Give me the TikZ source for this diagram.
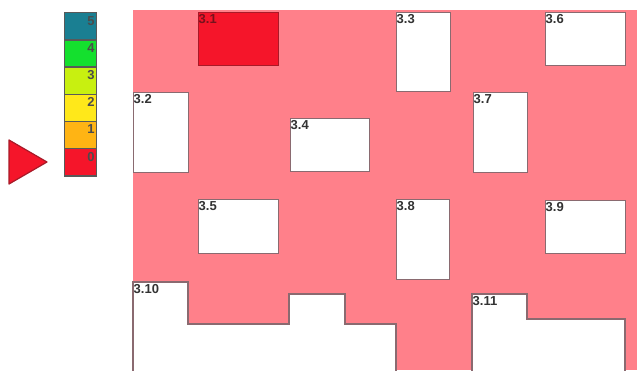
\documentclass[tikz,border=0pt]{standalone}
\usepackage{fontspec}
\setmainfont{Liberation Sans}
\usepackage{xcolor}
\usetikzlibrary{positioning}
\definecolor{floorpink}{HTML}{FF808A}
\definecolor{edgegray}{HTML}{8A6A70}
\definecolor{alarmred}{HTML}{F5152A}
\definecolor{darkred}{HTML}{A81A28}
\definecolor{levelfive}{HTML}{1A7F92}
\definecolor{levelfour}{HTML}{14E02E}
\definecolor{levelthree}{HTML}{C8F010}
\definecolor{leveltwo}{HTML}{FFE81A}
\definecolor{levelone}{HTML}{FFB414}
\tikzset{
  room/.style={draw=edgegray,fill=white,line width=1.1pt,inner sep=0pt,anchor=north west},
  roomlabel/.style={font=\fontsize{13}{13}\selectfont\bfseries,text=black!80,inner sep=0pt,anchor=north west,xshift=0.5pt,yshift=-2pt},
  cell/.style={draw=black!65,line width=1.4pt,inner sep=0pt,minimum width=32pt,minimum height=27.2pt,anchor=north west},
  celllabel/.style={font=\fontsize{13}{13}\selectfont\bfseries,text=black!70,inner sep=0pt,anchor=north east,xshift=-2pt,yshift=-4pt}
}
\begin{document}
\begin{tikzpicture}[x=1pt,y=-1pt]
  \useasboundingbox (0,0) rectangle (637,370);
  % floor
  \fill[floorpink] (133,10) rectangle (637,370);
  % legend
  \foreach \n/\c/\yy in {5/levelfive/12,4/levelfour/39.2,3/levelthree/66.4,2/leveltwo/93.6,1/levelone/120.8,0/alarmred/148}{
    \node[cell,fill=\c] (level\n) at (63.5,\yy) {};
    \node[celllabel] at (level\n.north east) {\n};
  }
  \draw[draw=darkred,fill=alarmred,line width=1.2pt,line join=round] (9,140)--(47,162)--(9,184)--cycle;
  % rooms with a plain outline
  \foreach \k/\xx/\yy/\ww/\hh in {2/133/92/55/80,3/396/12/54/79,4/290/118/79/53,5/198/199/80/54,
      6/545/12/80/53,7/473/92/54/80,8/396/199/53/80,9/545/200/80/53}{
    \node[room,minimum width=\ww pt,minimum height=\hh pt] (room\k) at (\xx,\yy) {};
    \node[roomlabel] at (room\k.north west) {3.\k};
  }
  \node[room,draw=darkred,fill=alarmred,minimum width=80pt,minimum height=53pt] (room1) at (198,12) {};
  \node[roomlabel,text=darkred!70!black] at (room1.north west) {3.1};
  % the two rooms that are not rectangles
  \draw[edgegray,fill=white,line width=1.1pt] (133,372)--(133,282)--(188,282)--(188,324)--(289,324)--(289,294)
    --(345,294)--(345,324)--(396,324)--(396,372);
  \draw[edgegray,fill=white,line width=1.1pt] (472,372)--(472,294)--(527,294)--(527,319)--(625,319)--(625,372);
  \node[roomlabel] at (133,282) {3.10};
  \node[roomlabel] at (472,294) {3.11};
\end{tikzpicture}
\end{document}
